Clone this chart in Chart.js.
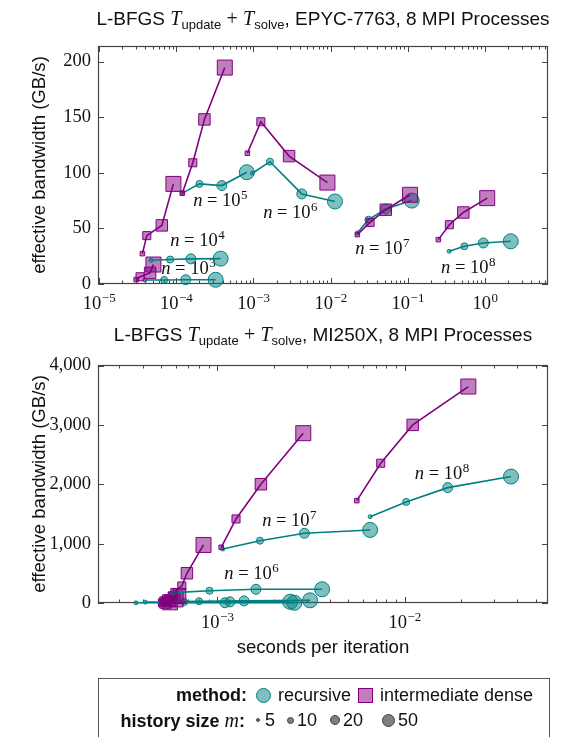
<!DOCTYPE html>
<html>
<head>
<meta charset="utf-8">
<script src="https://cdn.jsdelivr.net/npm/chart.js@4/dist/chart.umd.min.js"></script>
<style>
  html, body { margin: 0; padding: 0; background: #fff; }
  body { width: 563px; height: 737px; overflow: hidden; position: relative;
         font-family: "Liberation Sans", Arial, sans-serif; color: #111; }
  canvas { position: absolute; left: 0; top: 0; }
  .t { position: absolute; white-space: nowrap; font-size: 18px; line-height: 20px; }
  .title { left: 0; width: 646px; text-align: center; font-size: 19px; }
  .mi { font-family: "Liberation Serif", serif; font-style: italic; font-size: 20px; }
  .mo { font-family: "Liberation Serif", serif; font-size: 20px; }
  .sb { font-size: 13px; position: relative; top: 4px; }
  .ylab { transform: translate(-50%, -50%) rotate(-90deg); font-size: 18.6px; }
  .xlab { transform: translate(-50%, -50%); font-size: 18.6px; }
  #legendBox { position: absolute; left: 98px; top: 678px; width: 450px; height: 90px;
               border: 1px solid #555; }
  .sw { position: absolute; box-sizing: border-box; }
  .b { font-weight: bold; }
</style>
</head>
<body>
<canvas id="epyc" width="563" height="737"></canvas>
<canvas id="mi250" width="563" height="737"></canvas>

<div class="t title" style="top:8px">L-BFGS <span class="mi">T</span><span class="sb">update</span> <span class="mo">+</span> <span class="mi">T</span><span class="sb">solve</span>, EPYC-7763, 8 MPI Processes</div>
<div class="t title" style="top:324px">L-BFGS <span class="mi">T</span><span class="sb">update</span> <span class="mo">+</span> <span class="mi">T</span><span class="sb">solve</span>, MI250X, 8 MPI Processes</div>
<div class="t ylab" style="left:39px; top:165px">effective bandwidth (GB/s)</div>
<div class="t ylab" style="left:39px; top:484px">effective bandwidth (GB/s)</div>
<div class="t xlab" style="left:323px; top:647px">seconds per iteration</div>

<div id="legendBox"></div>
<div class="t b" style="right:316px; top:685px">method:</div>
<div class="sw" style="left:256px; top:688px; width:15px; height:15px; border-radius:50%; background:rgba(0,128,128,0.5); border:1px solid #008080"></div>
<div class="t" style="left:278px; top:685px">recursive</div>
<div class="sw" style="left:358px; top:688px; width:15px; height:15px; background:rgba(128,0,128,0.5); border:1px solid #800080"></div>
<div class="t" style="left:380px; top:685px">intermediate dense</div>
<div class="t" style="right:318px; top:710px"><span class="b">history size </span><span class="mi">m</span><span class="b">:</span></div>
<div class="sw" style="left:256px; top:718px; width:4px; height:4px; border-radius:50%; background:#7f7f7f; border:1px solid #404040"></div>
<div class="t" style="left:265px; top:710px">5</div>
<div class="sw" style="left:286.5px; top:716.5px; width:7px; height:7px; border-radius:50%; background:#7f7f7f; border:1px solid #404040"></div>
<div class="t" style="left:297px; top:710px">10</div>
<div class="sw" style="left:330px; top:715px; width:10px; height:10px; border-radius:50%; background:#7f7f7f; border:1px solid #404040"></div>
<div class="t" style="left:343px; top:710px">20</div>
<div class="sw" style="left:381.5px; top:713.5px; width:13px; height:13px; border-radius:50%; background:#7f7f7f; border:1px solid #404040"></div>
<div class="t" style="left:398px; top:710px">50</div>

<script>
// ================= DATA =================
const nExponents = [3, 4, 5, 6, 7, 8];        // problem size n = 10^k (rows)
const historySizes = [5, 10, 20, 50];         // history size m (columns)

// EPYC-7763: seconds per iteration and effective bandwidth (GB/s)
const epycRecursiveSec = [
  [3.95e-5, 6.97e-5, 1.33e-4, 3.24e-4],
  [4.73e-5, 8.34e-5, 1.55e-4, 3.76e-4],
  [1.20e-4, 2.00e-4, 3.90e-4, 8.22e-4],
  [9.7e-4, 1.64e-3, 4.24e-3, 1.14e-2],
  [0.0222, 0.0309, 0.0519, 0.1127],
  [0.343, 0.541, 0.953, 2.16]
];
const epycRecursiveGBs = [
  [3.6, 3.6, 3.8, 3.8],
  [21.3, 22.0, 22.6, 22.8],
  [81.7, 90.0, 88.5, 100.5],
  [99.6, 110.0, 81.0, 74.2],
  [45.9, 57.8, 67.4, 75.0],
  [29.4, 33.9, 36.9, 38.4]
];
const epycDenseSec = [
  [3.03e-5, 3.4e-5, 4.59e-5, 5.07e-5],
  [3.65e-5, 4.16e-5, 6.51e-5, 9.2e-5],
  [1.20e-4, 1.64e-4, 2.32e-4, 4.26e-4],
  [8.36e-4, 1.25e-3, 2.90e-3, 9.1e-3],
  [0.0222, 0.0325, 0.0519, 0.107],
  [0.249, 0.346, 0.525, 1.07]
];
const epycDenseGBs = [
  [4.0, 6.5, 10.0, 17.5],
  [27.3, 43.5, 52.7, 90.0],
  [81.7, 109.0, 148.0, 194.6],
  [117.6, 145.9, 115.0, 91.2],
  [44.4, 55.4, 66.8, 80.2],
  [39.9, 53.3, 64.3, 77.2]
];

// MI250X
const mi250RecursiveSec = [
  [3.68e-4, 5.5e-4, 1.1e-3, 2.58e-3],
  [4.13e-4, 6.67e-4, 1.17e-3, 2.45e-3],
  [5.8e-4, 8.0e-4, 1.39e-3, 3.13e-3],
  [5.85e-4, 9.1e-4, 1.61e-3, 3.63e-3],
  [1.07e-3, 1.69e-3, 2.92e-3, 6.55e-3],
  [6.55e-3, 0.0102, 0.017, 0.037]
];
const mi250RecursiveGBs = [
  [3, 3, 4, 4],
  [15, 17, 19, 21],
  [25, 30, 35, 45],
  [174, 207, 231, 231],
  [910, 1050, 1175, 1231],
  [1455, 1703, 1944, 2130]
];
const mi250DenseSec = [
  [5.0e-4, 5.1e-4, 5.3e-4, 5.6e-4],
  [5.1e-4, 5.3e-4, 5.6e-4, 6.0e-4],
  [5.3e-4, 5.6e-4, 5.9e-4, 6.2e-4],
  [5.97e-4, 6.47e-4, 6.89e-4, 8.45e-4],
  [1.05e-3, 1.26e-3, 1.71e-3, 2.88e-3],
  [5.56e-3, 7.46e-3, 0.01105, 0.0219]
];
const mi250DenseGBs = [
  [3, 5, 8, 12],
  [15, 25, 40, 60],
  [40, 60, 90, 120],
  [200, 287, 501, 978],
  [939, 1416, 2001, 2861],
  [1725, 2355, 3001, 3647]
];

// tick values
const epycYTicks = [0, 50, 100, 150, 200];
const mi250YTicks = [0, 1000, 2000, 3000, 4000];

// ================= STYLE / LAYOUT =================
const STYLE = {
  recursive: { line: '#008080', fill: 'rgba(0,128,128,0.5)', shape: 'circle',
               radius: {5: 2, 10: 3.5, 20: 5, 50: 7.5} },
  dense:     { line: '#800080', fill: 'rgba(128,0,128,0.5)', shape: 'rect',
               radius: {5: 3.2, 10: 5.7, 20: 8.1, 50: 10.6} }
};
const SERIF = '"Liberation Serif", serif';

function series(secs, gbs, method) {
  const st = STYLE[method];
  return {
    data: secs.map((s, j) => ({ x: s, y: gbs[j] })),
    showLine: true, tension: 0, clip: false,
    borderColor: st.line, borderWidth: 1.6, backgroundColor: st.fill,
    pointStyle: st.shape,
    pointRadius: historySizes.map(m => st.radius[m]),
    pointHoverRadius: historySizes.map(m => st.radius[m]),
    pointBorderWidth: 1, pointBorderColor: st.line, pointBackgroundColor: st.fill
  };
}
function buildDatasets(recSec, recGBs, denSec, denGBs) {
  const sets = [];
  nExponents.forEach((e, i) => {
    sets.push(series(recSec[i], recGBs[i], 'recursive'));
    sets.push(series(denSec[i], denGBs[i], 'dense'));
  });
  return sets.reverse(); // Chart.js paints index 0 last -> later series on top
}

const pgfAxes = {
  id: 'pgfAxes',
  beforeDatasetsDraw(chart, args, o) {
    const { ctx, chartArea: a } = chart;
    const x = chart.scales.x, y = chart.scales.y;
    ctx.save();
    ctx.strokeStyle = '#444';
    ctx.lineWidth = 1;
    const seg = (x1, y1, x2, y2) => { ctx.beginPath(); ctx.moveTo(x1, y1); ctx.lineTo(x2, y2); ctx.stroke(); };
    const e0 = Math.floor(Math.log10(x.min)), e1 = Math.ceil(Math.log10(x.max));
    const majors = [];
    for (let e = e0; e <= e1; e++) {
      for (let k = 1; k <= 9; k++) {
        const v = k * Math.pow(10, e);
        if (v < x.min || v > x.max) continue;
        const px = Math.round(x.getPixelForValue(v)) + 0.5;
        const len = k === 1 ? 6 : 3.5;
        seg(px, a.bottom, px, a.bottom - len);
        seg(px, a.top, px, a.top + len);
        if (k === 1) majors.push(e);
      }
    }
    o.yTicks.forEach(v => {
      const py = Math.round(y.getPixelForValue(v)) + 0.5;
      seg(a.left, py, a.left + 6, py);
      seg(a.right, py, a.right - 6, py);
    });
    ctx.lineWidth = 1.2;
    ctx.strokeRect(Math.round(a.left) + 0.5, Math.round(a.top) + 0.5,
                   Math.round(a.width) - 1, Math.round(a.height) - 1);
    ctx.fillStyle = '#111';
    ctx.font = '18.5px ' + SERIF;
    ctx.textAlign = 'right';
    ctx.textBaseline = 'middle';
    o.yTicks.forEach(v => {
      ctx.fillText(v.toLocaleString('en-US'), a.left - 7, y.getPixelForValue(v));
    });
    ctx.textAlign = 'left';
    ctx.textBaseline = 'alphabetic';
    majors.forEach(e => {
      const px = x.getPixelForValue(Math.pow(10, e));
      const sup = e < 0 ? '\u2212' + (-e) : String(e);
      ctx.font = '18.5px ' + SERIF; const w1 = ctx.measureText('10').width;
      ctx.font = '13px ' + SERIF; const w2 = ctx.measureText(sup).width;
      const sx = px - (w1 + w2) / 2;
      ctx.font = '18.5px ' + SERIF; ctx.fillText('10', sx, a.bottom + 25);
      ctx.font = '13px ' + SERIF; ctx.fillText(sup, sx + w1 + 0.5, a.bottom + 18);
    });
    o.labels.forEach(L => {
      const px = x.getPixelForValue(L.x), py = y.getPixelForValue(L.y);
      const sup = String(L.k);
      ctx.font = 'italic 18.5px ' + SERIF; const w1 = ctx.measureText('n').width;
      ctx.font = '18.5px ' + SERIF; const w2 = ctx.measureText(' = 10').width;
      ctx.font = '13px ' + SERIF; const w3 = ctx.measureText(sup).width;
      const sx = px - (w1 + w2 + w3) / 2;
      const base = py + 6;
      ctx.font = 'italic 18.5px ' + SERIF; ctx.fillText('n', sx, base);
      ctx.font = '18.5px ' + SERIF; ctx.fillText(' = 10', sx + w1, base);
      ctx.font = '13px ' + SERIF; ctx.fillText(sup, sx + w1 + w2 + 0.5, base - 7);
    });
    ctx.restore();
  }
};

function makeChart(id, datasets, xr, yr, pad, yTicks, labels) {
  return new Chart(document.getElementById(id), {
    type: 'scatter',
    data: { datasets },
    options: {
      responsive: false, animation: false, events: [],
      layout: { padding: pad },
      scales: {
        x: { type: 'logarithmic', min: xr[0], max: xr[1], display: false },
        y: { type: 'linear', min: yr[0], max: yr[1], display: false }
      },
      plugins: { legend: { display: false }, tooltip: { enabled: false },
                 pgfAxes: { yTicks, labels } }
    },
    plugins: [pgfAxes]
  });
}

makeChart('epyc',
  buildDatasets(epycRecursiveSec, epycRecursiveGBs, epycDenseSec, epycDenseGBs),
  [9.7e-6, 6.56], [0, 214],
  { left: 98, right: 15, top: 46, bottom: 453 },
  epycYTicks,
  [ { k: 3, x: 1.43e-4, y: 14.8 }, { k: 4, x: 1.87e-4, y: 39.9 },
    { k: 5, x: 3.71e-4, y: 75.8 }, { k: 6, x: 2.99e-3, y: 65 },
    { k: 7, x: 0.0465, y: 32.8 }, { k: 8, x: 0.604, y: 15.7 } ]);

makeChart('mi250',
  buildDatasets(mi250RecursiveSec, mi250RecursiveGBs, mi250DenseSec, mi250DenseGBs),
  [2.31e-4, 0.0583], [0, 4010],
  { left: 98, right: 15, top: 365, bottom: 134 },
  mi250YTicks,
  [ { k: 6, x: 1.52e-3, y: 506 }, { k: 7, x: 2.42e-3, y: 1400 },
    { k: 8, x: 0.0158, y: 2192 } ]);
</script>
</body>
</html>
